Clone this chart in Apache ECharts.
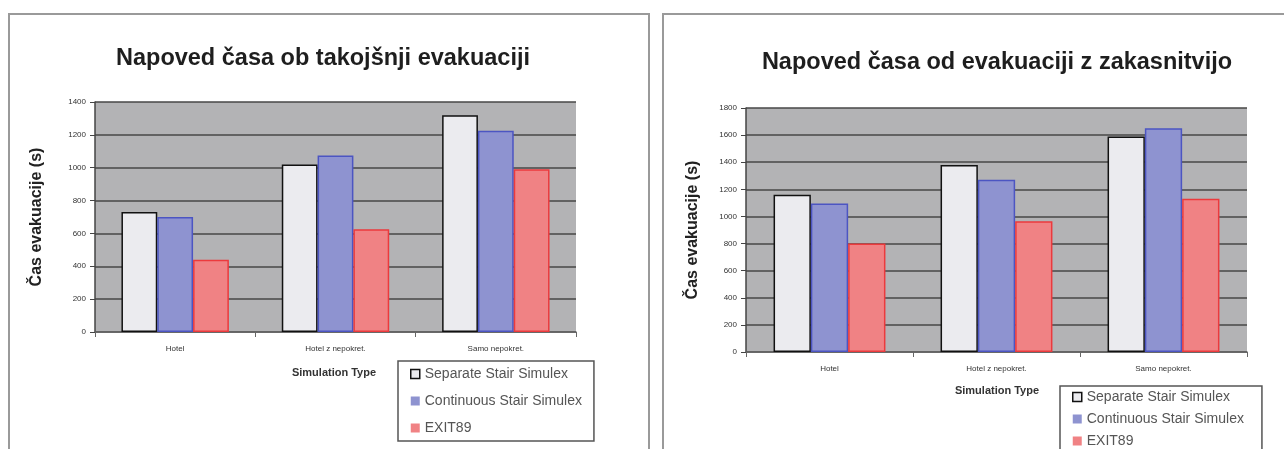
<!DOCTYPE html>
<html>
<head>
<meta charset="utf-8">
<style>
  html, body { margin: 0; padding: 0; background: #fff; }
  #chart { width: 1284px; height: 449px; }
</style>
<script src="https://cdn.jsdelivr.net/npm/echarts@6/dist/echarts.min.js"></script>
</head>
<body>
<div id="chart"></div>
<script>
// podatki
const categories = ['Hotel', 'Hotel z nepokret.', 'Samo nepokret.']
const seriesNames = ['Separate Stair Simulex', 'Continuous Stair Simulex', 'EXIT89']

// takojšnja evakuacija (levo)
const separateNow = [730, 1020, 1320]
const continuousNow = [700, 1075, 1225]
const exitNow = [440, 625, 990]

// evakuacija z zakasnitvijo (desno)
const separateDelay = [1160, 1380, 1590]
const continuousDelay = [1095, 1270, 1650]
const exitDelay = [800, 965, 1130]

const leftMax = 1400
const rightMax = 1800
const yStep = 200

const titles = ['Napoved časa ob takojšnji evakuaciji', 'Napoved časa od evakuaciji z zakasnitvijo']
const yName = 'Čas evakuacije (s)'
const xName = 'Simulation Type'

const FONT = '"Liberation Sans", Arial, sans-serif'

const styles = [
  { color: '#ebebef', borderColor: '#111', borderWidth: 1.5 },
  { color: '#8e93d0', borderColor: '#4c55c2', borderWidth: 1.5 },
  { color: '#f08284', borderColor: '#ec3a3d', borderWidth: 1.5 }
]

const chart = echarts.init(document.getElementById('chart'), null, { renderer: 'canvas' })

function yAxis(gridIndex, max, nameGap) {
  return {
    type: 'value', gridIndex, min: 0, max, interval: yStep,
    name: yName, nameLocation: 'middle', nameGap,
    nameTextStyle: { fontFamily: FONT, fontWeight: 'bold', fontSize: 16, color: '#222' },
    axisLine: { show: true, lineStyle: { color: '#444', width: 1.5 } },
    axisTick: { show: true, length: 5, lineStyle: { color: '#444' } },
    axisLabel: { fontFamily: FONT, fontSize: 8, color: '#333', margin: 9, formatter: v => String(v) },
    splitLine: { lineStyle: { color: '#474747', width: 1.5 } }
  }
}

function xAxis(gridIndex) {
  return {
    type: 'category', gridIndex, data: categories,
    axisLine: { lineStyle: { color: '#666', width: 1.5 } },
    axisTick: { show: true, length: 5, lineStyle: { color: '#666' } },
    axisLabel: { fontFamily: FONT, fontSize: 8, color: '#333', margin: 13 }
  }
}

function bars(values, idx, axisIdx) {
  return {
    type: 'bar', name: seriesNames[idx], data: values,
    xAxisIndex: axisIdx, yAxisIndex: axisIdx,
    barGap: '0%', barCategoryGap: '33%',
    itemStyle: styles[idx],
    emphasis: { disabled: true }
  }
}

function legend(left, top, padding, itemGap) {
  return {
    orient: 'vertical', left, top, padding, itemGap,
    height: 90,
    icon: 'rect',
    itemWidth: 9, itemHeight: 9,
    borderColor: '#555', borderWidth: 1.5,
    textStyle: { fontFamily: FONT, fontSize: 14, color: '#555', lineHeight: 14 },
    data: [
      { name: seriesNames[0], itemStyle: { borderColor: '#111', borderWidth: 1.5 } },
      { name: seriesNames[1], itemStyle: { borderWidth: 0 } },
      { name: seriesNames[2], itemStyle: { borderWidth: 0 } }
    ]
  }
}

const option = {
  animation: false,
  title: [
    { text: titles[0], left: 323, top: 47, textAlign: 'center', padding: 0,
      textStyle: { fontFamily: FONT, fontWeight: 'bold', fontSize: 23.5, color: '#1e1e1e' } },
    { text: titles[1], left: 997, top: 51, textAlign: 'center', padding: 0,
      textStyle: { fontFamily: FONT, fontWeight: 'bold', fontSize: 23.5, color: '#1e1e1e' } }
  ],
  grid: [
    { left: 95, top: 102, width: 481, height: 230, show: true, backgroundColor: '#b3b3b5', borderWidth: 0 },
    { left: 746, top: 108, width: 501, height: 244, show: true, backgroundColor: '#b3b3b5', borderWidth: 0 }
  ],
  xAxis: [xAxis(0), xAxis(1)],
  yAxis: [yAxis(0, leftMax, 50), yAxis(1, rightMax, 45)],
  legend: [
    legend(398, 361, [6, 12, 6, 12], 13),
    legend(1060, 386, [4, 18, 12, 12], 8)
  ],
  series: [
    bars(separateNow, 0, 0),
    bars(continuousNow, 1, 0),
    bars(exitNow, 2, 0),
    bars(separateDelay, 0, 1),
    bars(continuousDelay, 1, 1),
    bars(exitDelay, 2, 1)
  ],
  graphic: [
    { type: 'rect', shape: { x: 9, y: 14, width: 640, height: 460 },
      style: { fill: 'none', stroke: '#9a9a9a', lineWidth: 2 }, z: -10 },
    { type: 'rect', shape: { x: 663, y: 14, width: 640, height: 460 },
      style: { fill: 'none', stroke: '#9a9a9a', lineWidth: 2 }, z: -10 },
    { type: 'text', x: 334, y: 373, style: { text: xName, fontFamily: FONT, fontWeight: 'bold',
      fontSize: 11, fill: '#333', align: 'center', verticalAlign: 'middle' } },
    { type: 'text', x: 997, y: 391, style: { text: xName, fontFamily: FONT, fontWeight: 'bold',
      fontSize: 11, fill: '#333', align: 'center', verticalAlign: 'middle' } }
  ]
}

chart.setOption(option)
window.addEventListener('resize', () => chart.resize())
</script>
</body>
</html>
